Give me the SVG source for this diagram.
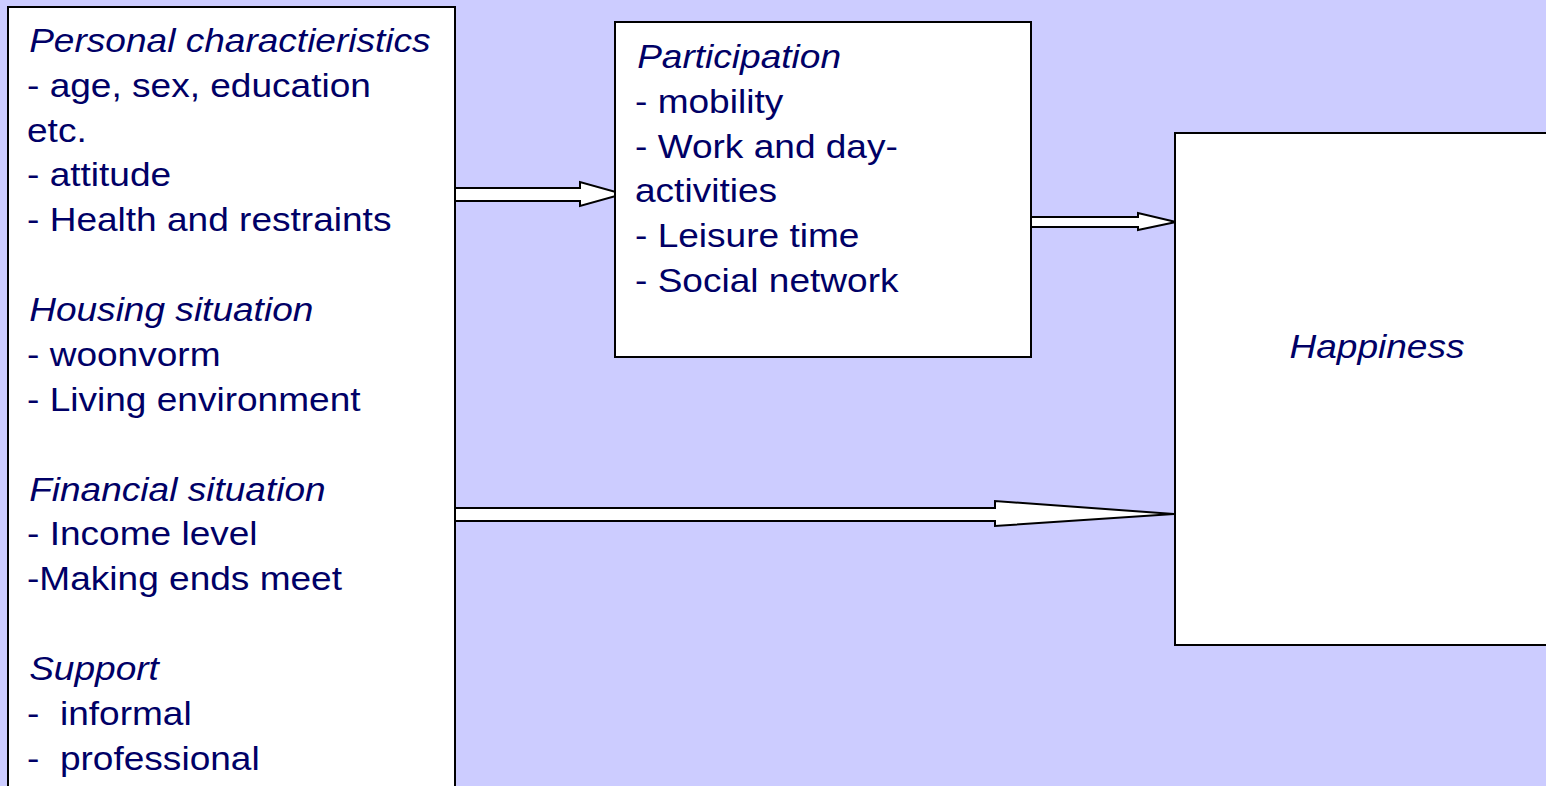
<svg xmlns="http://www.w3.org/2000/svg" width="1546" height="786" viewBox="0 0 1546 786">
  <style>
    .box { fill: #ffffff; stroke: #000000; stroke-width: 2; }
    .arrow { fill: #ffffff; stroke: #000000; stroke-width: 2; stroke-linejoin: miter; }
    text { font-family: "Liberation Sans", Arial, sans-serif; font-size: 34px; fill: #000066; white-space: pre; }
    .head { font-style: italic; }
  </style>
  <rect x="0" y="0" width="1546" height="786" fill="#ccccff"/>

  <g id="connectors">
    <polygon class="arrow" points="455,188 580,188 580,182 623,194 580,206 580,201 455,201"/>
    <polygon class="arrow" points="1031,217 1138,217 1138,213 1176,222 1138,230 1138,227 1031,227"/>
    <polygon class="arrow" points="455,508 995,508 995,501 1174,514 995,526 995,521 455,521"/>
  </g>

  <g id="factors">
    <rect class="box" x="8" y="7" width="447" height="790"/>
    <g transform="translate(27,0) scale(1.09,1)">
      <text class="head" x="2" y="52">Personal charactieristics</text>
      <text x="0" y="97">- age, sex, education</text>
      <text x="0" y="142">etc.</text>
      <text x="0" y="186">- attitude</text>
      <text x="0" y="231">- Health and restraints</text>
      <text class="head" x="2" y="321">Housing situation</text>
      <text x="0" y="366">- woonvorm</text>
      <text x="0" y="411">- Living environment</text>
      <text class="head" x="2" y="501">Financial situation</text>
      <text x="0" y="545">- Income level</text>
      <text x="0" y="590">-Making ends meet</text>
      <text class="head" x="2" y="680">Support</text>
      <text x="0" y="725">-  informal</text>
      <text x="0" y="770">-  professional</text>
    </g>
  </g>

  <g id="participation">
    <rect class="box" x="615" y="22" width="416" height="335"/>
    <g transform="translate(635,0) scale(1.09,1)">
      <text class="head" x="2" y="68">Participation</text>
      <text x="0" y="113">- mobility</text>
      <text x="0" y="158">- Work and day-</text>
      <text x="0" y="202">activities</text>
      <text x="0" y="247">- Leisure time</text>
      <text x="0" y="292">- Social network</text>
    </g>
  </g>

  <g id="happiness">
    <rect class="box" x="1175" y="133" width="380" height="512"/>
    <g transform="translate(1377,0) scale(1.09,1)">
      <text class="head" x="0" y="358" text-anchor="middle">Happiness</text>
    </g>
  </g>
</svg>
